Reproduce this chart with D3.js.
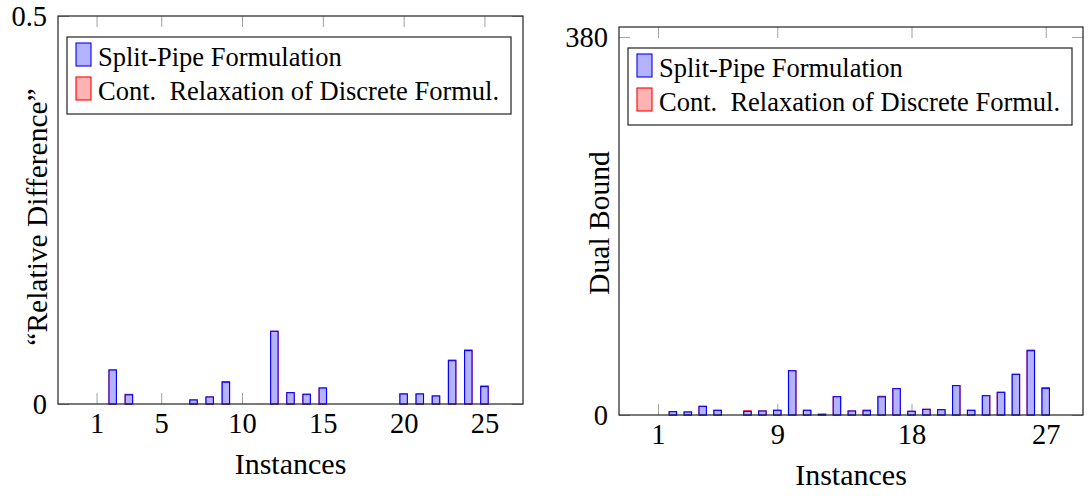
<!DOCTYPE html>
<html>
<head>
<meta charset="utf-8">
<script src="https://cdn.jsdelivr.net/npm/d3@7/dist/d3.min.js"></script>
<style>
  html, body { margin: 0; padding: 0; background: #fff; }
  svg { display: block; }
  text { font-family: "Liberation Serif", "Times New Roman", serif; fill: #000; }
</style>
</head>
<body>
<svg id="chart" width="1088" height="496"></svg>
<script>
// ---------- Data ----------
const leftInstances   = [1,2,3,4,5,6,7,8,9,10,11,12,13,14,15,16,17,18,19,20,21,22,23,24,25];
const leftSplitPipe   = [0,0.0438,0.0118,0,0,0,0.0052,0.0090,0.0280,0,0,0.0937,0.0146,0.0125,0.0206,0,0,0,0,0.0129,0.0129,0.0103,0.0558,0.0688,0.0224];
const leftContRelax   = [0,0.0438,0.0124,0,0,0,0.0052,0.0090,0.0288,0,0,0.0937,0.0146,0.0125,0.0206,0,0,0,0,0.0129,0.0129,0.0103,0.0566,0.0696,0.0232];
const leftXTicks      = [1,5,10,15,20,25];
const leftYTicks      = [0,0.5];
const leftYTickLabels = ["0","0.5"];

const rightInstances  = [1,2,3,4,5,6,7,8,9,10,11,12,13,14,15,16,17,18,19,20,21,22,23,24,25,26,27];
const rightSplitPipe  = [0,3.3,3.0,8.7,4.7,0,3.6,4.0,4.7,44.5,4.7,0.7,18.4,4.0,4.3,18.2,26.5,3.7,5.7,5.3,29.5,4.7,19.4,22.8,40.9,64.6,26.8];
const rightContRelax  = [0,3.3,3.0,8.7,4.7,0,4.2,4.0,4.7,44.5,4.7,0.7,18.4,4.0,4.9,18.8,26.5,3.7,5.7,5.3,29.5,4.7,19.4,22.8,40.9,65.2,27.4];
const rightXTicks     = [1,9,18,27];
const rightYTicks     = [0,380];
const rightYTickLabels = ["0","380"];

const seriesNames = ["Split-Pipe Formulation", "Cont.\u00A0 Relaxation of Discrete Formul."];

// ---------- Drawing ----------
const svg = d3.select("#chart");

function drawPanel(cfg) {
  const g = svg.append("g");
  const x = d3.scaleLinear().domain(cfg.xDomain).range([cfg.left, cfg.right]);
  const y = d3.scaleLinear().domain(cfg.yDomain).range([cfg.bottom, cfg.top]);
  const barW = 7.4;

  const axB = g.append("g").attr("transform", `translate(0,${cfg.bottom})`)
    .call(d3.axisBottom(x).tickValues(cfg.xTicks).tickSize(-11).tickPadding(9).tickFormat(d3.format("d")));
  const axT = g.append("g").attr("transform", `translate(0,${cfg.top})`)
    .call(d3.axisTop(x).tickValues(cfg.xTicks).tickSize(-11).tickFormat(""));
  const axL = g.append("g").attr("transform", `translate(${cfg.left},0)`)
    .call(d3.axisLeft(y).tickValues(cfg.yTicks).tickSize(-11).tickPadding(11)
      .tickFormat((d, i) => cfg.yTickLabels[i]));
  const axR = g.append("g").attr("transform", `translate(${cfg.right},0)`)
    .call(d3.axisRight(y).tickValues(cfg.yTicks).tickSize(-11).tickFormat(""));
  [axB, axT, axL, axR].forEach(a => {
    a.select(".domain").remove();
    a.selectAll(".tick line").attr("stroke", "#a0a0a0").attr("stroke-width", 1);
    a.selectAll(".tick text").style("font-size", "28.5px").attr("fill", "#000")
      .style("font-family", "'Liberation Serif', serif");
  });

  // bars: red behind, blue on top
  const series = [
    { vals: cfg.red,  fill: "#ffb3b3", stroke: "#ff0000" },
    { vals: cfg.blue, fill: "#b3b3ff", stroke: "#0000ff" }
  ];
  series.forEach(s => {
    g.append("g").selectAll("rect")
      .data(cfg.instances.map((d, i) => ({ k: d, v: s.vals[i] })).filter(d => d.v > 0))
      .join("rect")
      .attr("x", d => x(d.k) - barW / 2)
      .attr("width", barW)
      .attr("y", d => y(d.v))
      .attr("height", d => y(0) - y(d.v))
      .attr("fill", s.fill)
      .attr("stroke", s.stroke)
      .attr("stroke-width", 1.1);
  });

  // frame
  g.append("rect")
    .attr("x", cfg.left).attr("y", cfg.top)
    .attr("width", cfg.right - cfg.left).attr("height", cfg.bottom - cfg.top)
    .attr("fill", "none").attr("stroke", "#222").attr("stroke-width", 1.2);

  // axis labels
  g.append("text")
    .attr("x", (cfg.left + cfg.right) / 2)
    .attr("y", cfg.bottom + 70)
    .attr("text-anchor", "middle")
    .style("font-size", "30px")
    .text("Instances");
  g.append("text")
    .attr("transform", `translate(${cfg.yLabelX},${(cfg.top + cfg.bottom) / 2 + cfg.yLabelDy}) rotate(-90)`)
    .attr("text-anchor", "middle")
    .style("font-size", "29.5px")
    .text(cfg.yLabel);

  // legend
  const lx = cfg.left + 9, ly = cfg.top + 21;
  const leg = g.append("g");
  leg.append("rect")
    .attr("x", lx).attr("y", ly).attr("width", 444).attr("height", 77)
    .attr("fill", "#fff").attr("stroke", "#222").attr("stroke-width", 1.2);
  const entries = [
    { name: seriesNames[0], fill: "#b3b3ff", stroke: "#0000ff" },
    { name: seriesNames[1], fill: "#ffb3b3", stroke: "#ff0000" }
  ];
  entries.forEach((e, i) => {
    const top = ly + 6 + i * 34;
    leg.append("rect")
      .attr("x", lx + 9).attr("y", top)
      .attr("width", 15).attr("height", 23)
      .attr("fill", e.fill).attr("stroke", e.stroke).attr("stroke-width", 1.1);
    leg.append("text")
      .attr("x", lx + 31).attr("y", top + 23)
      .style("font-size", "26.5px")
      .text(e.name);
  });
}

drawPanel({
  left: 58, right: 523, top: 16, bottom: 404,
  xDomain: [-1.386, 27.386], yDomain: [0, 0.5],
  xTicks: leftXTicks, yTicks: leftYTicks, yTickLabels: leftYTickLabels,
  instances: leftInstances, blue: leftSplitPipe, red: leftContRelax,
  yLabel: "\u201CRelative Difference\u201D", yLabelX: 47, yLabelDy: 7
});

drawPanel({
  left: 619, right: 1083, top: 27, bottom: 415,
  xDomain: [-1.614, 29.5], yDomain: [0, 390],
  xTicks: rightXTicks, yTicks: rightYTicks, yTickLabels: rightYTickLabels,
  instances: rightInstances, blue: rightSplitPipe, red: rightContRelax,
  yLabel: "Dual Bound", yLabelX: 609, yLabelDy: 2
});
</script>
</body>
</html>
